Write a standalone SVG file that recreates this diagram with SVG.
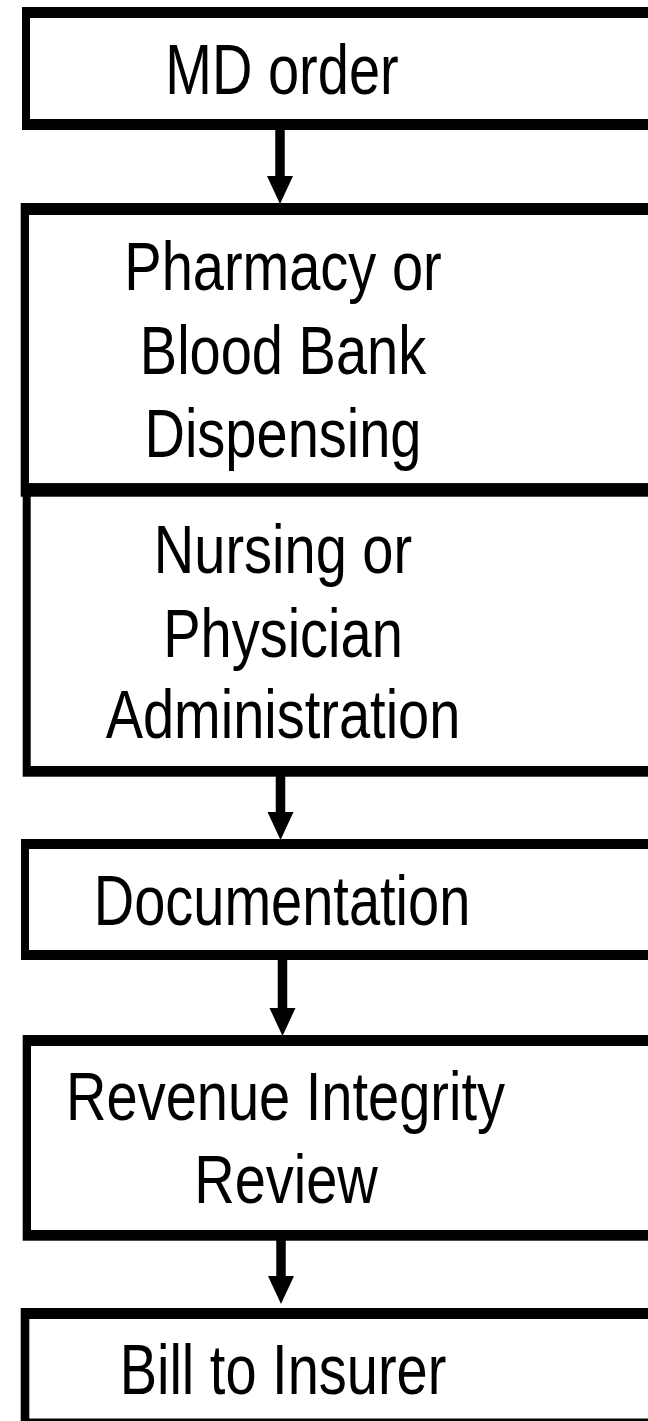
<svg xmlns="http://www.w3.org/2000/svg" width="648" height="1421" viewBox="0 0 648 1421">
<style>
.outer{fill:#000}
.inner{fill:#fff}
.lbl{font-family:"Liberation Sans",Arial,sans-serif;font-size:56px;fill:#000;text-anchor:middle}
.conn{stroke:#000;stroke-width:9.5;fill:none;marker-end:url(#head)}
</style>
<defs>
<marker id="head" markerUnits="userSpaceOnUse" markerWidth="28" markerHeight="26" refX="0" refY="13" orient="auto" overflow="visible">
<path d="M0,0 L28,13 L0,26 Z" fill="#000"/>
</marker>
</defs>
<rect width="648" height="1421" fill="#fff"/>
<g id="node-md-order">
<rect class="outer" x="22" y="7" width="680" height="123"/>
<rect class="inner" x="30" y="18" width="660" height="101"/>
<text class="lbl" transform="translate(282,94) scale(1,1.27)">MD order</text>
</g>
<g id="node-pharmacy">
<rect class="outer" x="20.7" y="203" width="680" height="293.7"/>
<rect class="inner" x="29" y="215" width="660" height="268.3"/>
<text class="lbl" transform="translate(283,290) scale(1,1.23)">Pharmacy or</text>
<text class="lbl" transform="translate(283,374) scale(1,1.23)">Blood Bank</text>
<text class="lbl" transform="translate(283,456.7) scale(1,1.23)">Dispensing</text>
</g>
<g id="node-nursing">
<rect class="outer" x="22.7" y="483.3" width="680" height="293.4"/>
<rect class="inner" x="30.7" y="496.7" width="660" height="269.3"/>
<text class="lbl" transform="translate(283,572.7) scale(1,1.24)">Nursing or</text>
<text class="lbl" transform="translate(283,656.7) scale(1,1.24)">Physician</text>
<text class="lbl" transform="translate(283,738.3) scale(1,1.24)">Administration</text>
</g>
<g id="node-documentation">
<rect class="outer" x="21" y="839" width="680" height="121"/>
<rect class="inner" x="29" y="849" width="660" height="101"/>
<text class="lbl" transform="translate(282,925) scale(1,1.25)">Documentation</text>
</g>
<g id="node-revenue">
<rect class="outer" x="22.7" y="1035" width="680" height="205.7"/>
<rect class="inner" x="31" y="1046" width="660" height="184"/>
<text class="lbl" transform="translate(285.5,1120) scale(1,1.23)">Revenue Integrity</text>
<text class="lbl" transform="translate(286,1203.3) scale(1,1.23)">Review</text>
</g>
<g id="node-bill">
<rect class="outer" x="20.7" y="1308" width="680" height="130"/>
<rect class="inner" x="29.3" y="1319" width="660" height="99.5"/>
<text class="lbl" transform="translate(283,1394.3) scale(1,1.26)">Bill to Insurer</text>
</g>
<g id="connectors">
<line class="conn" x1="280" y1="130" x2="280" y2="176"/>
<line class="conn" x1="280.5" y1="776" x2="280.5" y2="812"/>
<line class="conn" x1="282.5" y1="960" x2="282.5" y2="1008"/>
<line class="conn" x1="281" y1="1240" x2="281" y2="1276"/>
</g>
</svg>
